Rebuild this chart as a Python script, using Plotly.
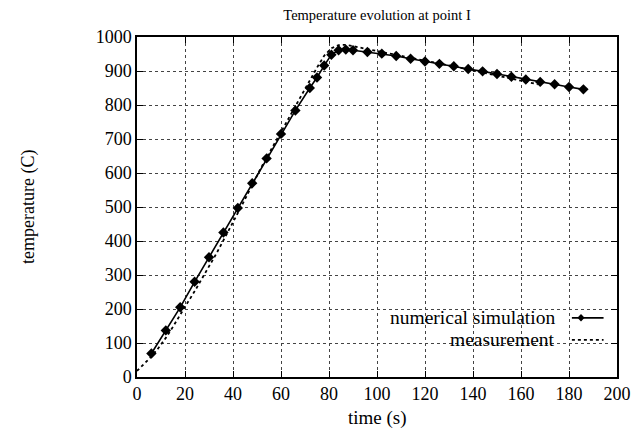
import plotly.graph_objects as go

# Simulation data (time in s, temperature in C)
sim_time = [6, 12, 18, 24, 30, 36, 42, 48, 54, 60, 66, 72, 75, 78, 81, 84, 87, 90,
            96, 102, 108, 114, 120, 126, 132, 138, 144, 150, 156, 162, 168, 174, 180, 186]
sim_temp = [69, 137, 205, 280, 352, 425, 497, 570, 643, 715, 784, 850, 881, 916, 948, 961, 963, 961,
            956, 951, 944, 936, 928, 921, 914, 906, 899, 891, 883, 875, 868, 861, 853, 846]

# Measurement data
meas_time = [0, 3, 6, 9, 12, 15, 18, 21, 24, 27, 30, 33, 36, 39, 42, 45, 48, 51, 54, 57, 60,
             63, 66, 69, 72, 75, 78, 81, 84, 87, 90, 95, 100, 105, 110, 115, 120, 125, 130,
             135, 140, 145, 150, 155, 160, 165, 167]
meas_temp = [18, 38, 60, 86, 115, 148, 185, 218, 252, 288, 325, 362, 402, 440, 482, 523, 566, 606, 645, 683, 720,
             758, 797, 835, 875, 910, 945, 967, 976, 977, 973, 966, 960, 953, 946, 939, 932, 925, 918,
             910, 902, 894, 886, 878, 871, 864, 861]

x_ticks = [0, 20, 40, 60, 80, 100, 120, 140, 160, 180, 200]
y_ticks = [0, 100, 200, 300, 400, 500, 600, 700, 800, 900, 1000]

FONT = "Liberation Serif"
W, H = 633, 429

fig = go.Figure()
fig.add_trace(go.Scatter(x=meas_time, y=meas_temp, mode="lines",
                         line=dict(color="black", width=1.8, dash="dot"),
                         name="measurement", showlegend=False))
fig.add_trace(go.Scatter(x=sim_time, y=sim_temp, mode="lines+markers",
                         line=dict(color="black", width=1.6),
                         marker=dict(symbol="diamond", size=8, color="black"),
                         name="numerical simulation", showlegend=False))

axis_common = dict(showline=True, linecolor="black", linewidth=1.5, mirror="ticks",
                   ticks="inside", ticklen=6, tickcolor="black", tickwidth=1.3,
                   showgrid=True, gridcolor="#444", gridwidth=1, griddash="dot",
                   zeroline=False, automargin=False,
                   tickfont=dict(family=FONT, size=18, color="black"))

fig.update_layout(
    width=W, height=H,
    margin=dict(l=137, r=16, t=37, b=52),
    paper_bgcolor="white", plot_bgcolor="white",
    title=dict(text="Temperature evolution at point I", x=0.5, xref="paper", xanchor="center",
               y=1 - 15 / H, yref="container", yanchor="middle",
               font=dict(family=FONT, size=14.5, color="black")),
    xaxis=dict(range=[0, 200], tickvals=x_ticks, **axis_common),
    yaxis=dict(range=[0, 1000], tickvals=y_ticks, **axis_common),
    showlegend=False,
)

# Axis titles
fig.add_annotation(text="time (s)", x=0.5, xref="paper", y=-0.12, yref="paper",
                   showarrow=False, yanchor="middle", xanchor="center",
                   font=dict(family=FONT, size=19, color="black"))
fig.add_annotation(text="temperature (C)", x=-0.227, xref="paper", y=0.5, yref="paper",
                   showarrow=False, textangle=-90, xanchor="center", yanchor="middle",
                   font=dict(family=FONT, size=18, color="black"))

# Gnuplot-style key (text on the left, sample on the right)
leg_rows = [("numerical simulation", 0.174, "solid", True),
            ("measurement", 0.109, "dot", False)]
for label, yp, dash, mk in leg_rows:
    fig.add_annotation(text=label, x=0.876, xref="paper", y=yp, yref="paper",
                       showarrow=False, xanchor="right", yanchor="middle",
                       font=dict(family=FONT, size=19.5, color="black"))
    fig.add_shape(type="line", xref="paper", yref="paper", x0=0.906, x1=0.972,
                  y0=yp, y1=yp, line=dict(color="black", width=1.6 if dash == "solid" else 1.8, dash=dash))
    if mk:
        cx, dx, dy = 0.925, 0.0075, 0.011
        fig.add_shape(type="path", xref="paper", yref="paper",
                      path=f"M {cx-dx},{yp} L {cx},{yp+dy} L {cx+dx},{yp} L {cx},{yp-dy} Z",
                      fillcolor="black", line=dict(color="black", width=0))

# Remove the default page margin so the figure fills the window exactly
fig.write_html("out.html", config={"displayModeBar": False},
               post_script="document.body.style.margin='0';document.body.style.overflow='hidden';")
